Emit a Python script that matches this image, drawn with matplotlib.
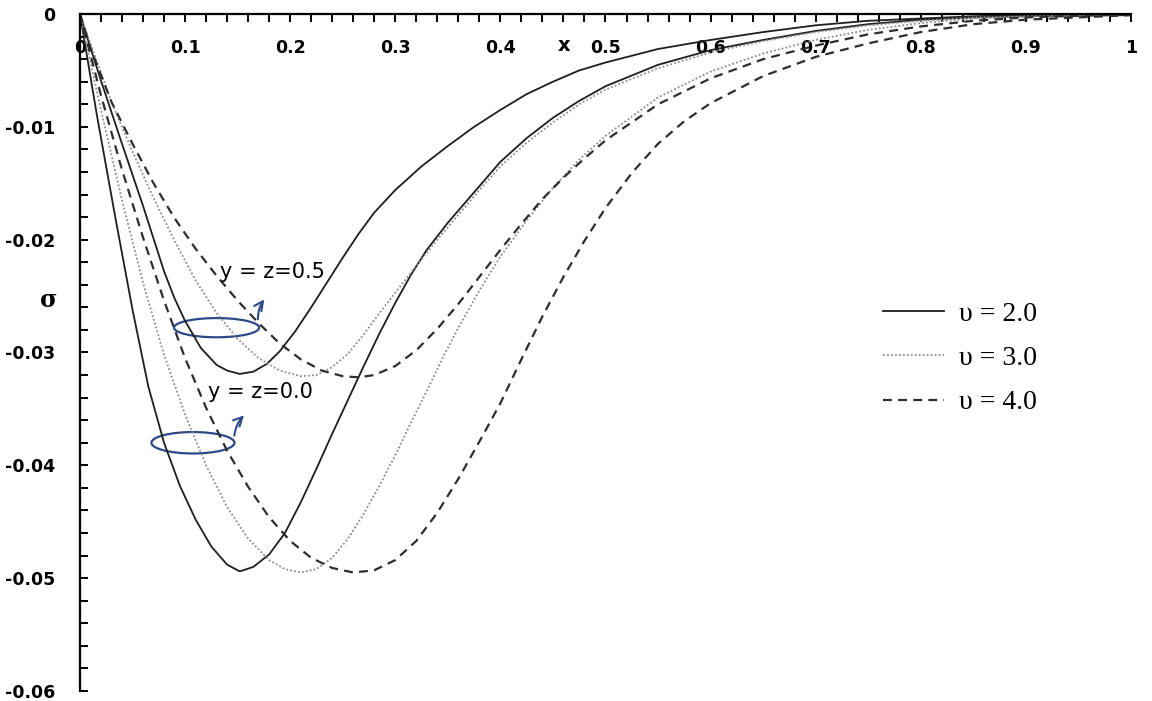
import numpy as np
import matplotlib.pyplot as plt
from matplotlib.patches import Ellipse
from matplotlib.ticker import MultipleLocator


# Curve data: sigma vs x
# y = z = 0.0
x_s0 = [0, 0.016, 0.033, 0.050, 0.065, 0.080, 0.095, 0.110, 0.125, 0.140, 0.152, 0.165, 0.180,
        0.195, 0.210, 0.225, 0.240, 0.255, 0.270, 0.285, 0.300, 0.315, 0.330, 0.350, 0.375,
        0.400, 0.425, 0.450, 0.475, 0.500, 0.550, 0.600, 0.650, 0.700, 0.750, 0.800, 0.850,
        0.900, 1.0]
y_s0 = [0, -0.0089, -0.0177, -0.0262, -0.0330, -0.0380, -0.0418, -0.0448, -0.0472, -0.0488,
        -0.0494, -0.0490, -0.0479, -0.0460, -0.0433, -0.0403, -0.0372, -0.0342, -0.0312,
        -0.0283, -0.0256, -0.0231, -0.0209, -0.0185, -0.0158, -0.0131, -0.0110, -0.0092,
        -0.0077, -0.0064, -0.0045, -0.0032, -0.0023, -0.0015, -0.0009, -0.0005, -0.0003,
        -0.0002, -0.0001]

x_d0 = [0, 0.010, 0.020, 0.040, 0.060, 0.080, 0.100, 0.120, 0.140, 0.160, 0.180, 0.195, 0.210,
        0.225, 0.240, 0.255, 0.270, 0.285, 0.300, 0.315, 0.330, 0.345, 0.360, 0.380, 0.400,
        0.425, 0.450, 0.475, 0.500, 0.550, 0.600, 0.650, 0.700, 0.750, 0.800, 0.850, 0.900, 1.0]
y_d0 = [0, -0.0043, -0.0085, -0.0165, -0.0238, -0.0302, -0.0355, -0.0400, -0.0437, -0.0465,
        -0.0484, -0.0492, -0.0495, -0.0492, -0.0482, -0.0465, -0.0443, -0.0418, -0.0391,
        -0.0362, -0.0334, -0.0305, -0.0278, -0.0245, -0.0215, -0.0183, -0.0154, -0.0129,
        -0.0108, -0.0074, -0.0051, -0.0035, -0.0023, -0.0014, -0.0008, -0.0004, -0.0002, 0]

x_h0 = [0, 0.010, 0.020, 0.040, 0.060, 0.080, 0.100, 0.120, 0.140, 0.160, 0.180, 0.200, 0.220,
        0.240, 0.260, 0.280, 0.300, 0.320, 0.340, 0.360, 0.380, 0.400, 0.420, 0.440, 0.460,
        0.480, 0.500, 0.525, 0.550, 0.575, 0.600, 0.650, 0.700, 0.750, 0.800, 0.850, 0.900, 1.0]
y_h0 = [0, -0.0036, -0.0072, -0.0138, -0.0198, -0.0254, -0.0305, -0.0349, -0.0387, -0.0419,
        -0.0446, -0.0467, -0.0482, -0.0491, -0.0495, -0.0493, -0.0484, -0.0467, -0.0442,
        -0.0412, -0.0379, -0.0345, -0.0306, -0.0268, -0.0233, -0.0201, -0.0172, -0.0141,
        -0.0115, -0.0095, -0.0079, -0.0055, -0.0038, -0.0026, -0.0016, -0.0009, -0.0005, -0.0001]

# y = z = 0.5
x_s5 = [0, 0.010, 0.020, 0.040, 0.060, 0.080, 0.090, 0.100, 0.115, 0.130, 0.140, 0.152, 0.165,
        0.178, 0.190, 0.205, 0.220, 0.235, 0.250, 0.265, 0.280, 0.300, 0.325, 0.350, 0.375,
        0.400, 0.425, 0.450, 0.475, 0.500, 0.550, 0.600, 0.650, 0.700, 0.750, 0.800, 0.850,
        0.900, 1.0]
y_s5 = [0, -0.0030, -0.0059, -0.0115, -0.0170, -0.0228, -0.0252, -0.0272, -0.0296, -0.0311,
        -0.0316, -0.0319, -0.0317, -0.0310, -0.0299, -0.0281, -0.0260, -0.0238, -0.0216,
        -0.0195, -0.0176, -0.0156, -0.0135, -0.0117, -0.0100, -0.0085, -0.0071, -0.0060,
        -0.0050, -0.0043, -0.0031, -0.0023, -0.0016, -0.0010, -0.0006, -0.0004, -0.0002,
        -0.0001, 0]

x_d5 = [0, 0.010, 0.030, 0.050, 0.070, 0.090, 0.110, 0.130, 0.150, 0.170, 0.190, 0.210, 0.225,
        0.240, 0.255, 0.270, 0.285, 0.300, 0.320, 0.340, 0.360, 0.380, 0.400, 0.425, 0.450,
        0.475, 0.500, 0.550, 0.600, 0.650, 0.700, 0.750, 0.800, 0.850, 0.900, 1.0]
y_d5 = [0, -0.0026, -0.0078, -0.0122, -0.0163, -0.0201, -0.0236, -0.0265, -0.0288, -0.0305,
        -0.0316, -0.0321, -0.0320, -0.0313, -0.0301, -0.0284, -0.0265, -0.0247, -0.0223,
        -0.0200, -0.0178, -0.0156, -0.0135, -0.0114, -0.0096, -0.0080, -0.0067, -0.0048,
        -0.0034, -0.0024, -0.0016, -0.0010, -0.0006, -0.0003, -0.0002, 0]

x_h5 = [0, 0.010, 0.030, 0.050, 0.070, 0.090, 0.110, 0.130, 0.150, 0.170, 0.190, 0.210, 0.230,
        0.250, 0.265, 0.280, 0.300, 0.320, 0.340, 0.360, 0.380, 0.400, 0.420, 0.440, 0.460,
        0.480, 0.500, 0.550, 0.600, 0.650, 0.700, 0.750, 0.800, 0.850, 0.900, 1.0]
y_h5 = [0, -0.0030, -0.0078, -0.0115, -0.0150, -0.0181, -0.0208, -0.0232, -0.0254, -0.0274,
        -0.0292, -0.0306, -0.0316, -0.0321, -0.0322, -0.0320, -0.0312, -0.0298, -0.0279,
        -0.0257, -0.0233, -0.0209, -0.0186, -0.0164, -0.0145, -0.0128, -0.0112, -0.0080,
        -0.0057, -0.0040, -0.0028, -0.0018, -0.0011, -0.0006, -0.0003, 0]

legend_labels = ['\u03c5 = 2.0', '\u03c5 = 3.0', '\u03c5 = 4.0']
xtick_vals = [0, 0.1, 0.2, 0.3, 0.4, 0.5, 0.6, 0.7, 0.8, 0.9, 1.0]
xtick_labels = ['0', '0.1', '0.2', '0.3', '0.4', '0.5', '0.6', '0.7', '0.8', '0.9', '1']
ytick_vals = [-0.06, -0.05, -0.04, -0.03, -0.02, -0.01, 0]
ytick_labels = ['-0.06', '-0.05', '-0.04', '-0.03', '-0.02', '-0.01', '0']

# styles
solid = dict(color='#1e1e1e', lw=1.3, ls='-')
dotted = dict(color='#8c8c8c', lw=1.3, ls=(0, (1, 1.2)))
dashed = dict(color='#2e2e2e', lw=1.6, ls=(0, (4, 2.8)))

fig = plt.figure(figsize=(11.52, 7.01), dpi=100)
ax = fig.add_axes([0.0694, 0.0143, 0.9124, 0.9657])

l1, = ax.plot(x_s0, y_s0, **solid)
l2, = ax.plot(x_d0, y_d0, **dotted)
l3, = ax.plot(x_h0, y_h0, **dashed)
ax.plot(x_s5, y_s5, **solid)
ax.plot(x_d5, y_d5, **dotted)
ax.plot(x_h5, y_h5, **dashed)

ax.set_xlim(0, 1)
ax.set_ylim(-0.06, 0)

for s in ['right', 'bottom']:
    ax.spines[s].set_visible(False)
for s in ['top', 'left']:
    ax.spines[s].set_linewidth(1.6)

ax.set_xticks(xtick_vals)
ax.set_xticklabels(xtick_labels)
ax.set_yticks(ytick_vals)
ax.set_yticklabels(ytick_labels)
ax.xaxis.set_minor_locator(MultipleLocator(0.02))
ax.yaxis.set_minor_locator(MultipleLocator(0.002))
ax.tick_params(axis='x', which='both', top=True, bottom=False, labeltop=True,
               labelbottom=False, direction='in', length=6, width=1.4, pad=-31)
ax.tick_params(axis='y', which='both', left=True, right=False, direction='in',
               length=6, width=1.4, pad=18)
for lab in ax.get_xticklabels() + ax.get_yticklabels():
    lab.set_fontsize(12.5)
    lab.set_fontweight('bold')
    lab.set_family('DejaVu Sans')

ax.text(0.461, 0.954, 'x', transform=ax.transAxes, ha='center', va='center',
        fontsize=14, fontweight='bold', family='DejaVu Sans')
ax.text(-0.030, 0.578, '\u03c3', transform=ax.transAxes, ha='center', va='center',
        fontsize=17, fontweight='bold', family='DejaVu Serif')

# annotations
blue = '#2d4a88'
ax.add_patch(Ellipse((0.130, -0.0278), 0.081, 0.0017, fill=False, ec=blue, lw=1.6))
ax.add_patch(Ellipse((0.1075, -0.0380), 0.079, 0.0019, fill=False, ec=blue, lw=1.6))
ax.annotate('', xy=(0.177, -0.0251), xytext=(0.1694, -0.0273),
            arrowprops=dict(arrowstyle='->', color=blue, lw=1.5, mutation_scale=16,
                            connectionstyle='arc3,rad=-0.2'))
ax.annotate('', xy=(0.158, -0.0354), xytext=(0.1466, -0.0376),
            arrowprops=dict(arrowstyle='->', color=blue, lw=1.5, mutation_scale=16,
                            connectionstyle='arc3,rad=-0.2'))
ax.text(0.183, -0.0229, 'y = z=0.5', ha='center', va='center', fontsize=15,
        family='DejaVu Sans')
ax.text(0.172, -0.0335, 'y = z=0.0', ha='center', va='center', fontsize=15,
        family='DejaVu Sans')

ax.legend([l1, l2, l3], legend_labels, loc='upper left', bbox_to_anchor=(0.753, 0.592),
          borderaxespad=0, frameon=False, prop={'family': 'Liberation Serif', 'size': 20},
          handlelength=2.23, handletextpad=0.54, labelspacing=0.68)

fig.savefig('out.png', dpi=100)
